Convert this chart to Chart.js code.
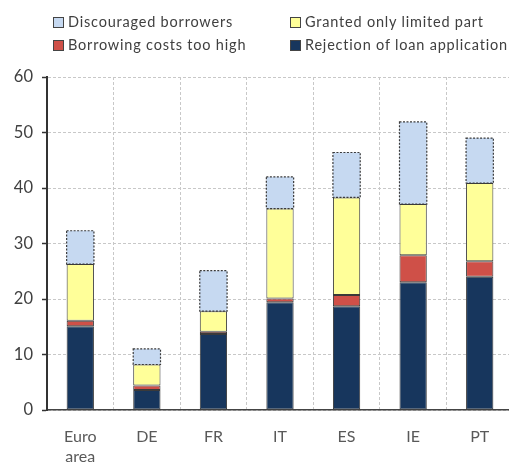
<!DOCTYPE html>
<html>
<head>
<meta charset="utf-8">
<script src="https://cdn.jsdelivr.net/npm/chart.js@4.4.1/dist/chart.umd.min.js"></script>
<style>
  html, body { margin: 0; padding: 0; background: #fff; overflow: hidden; }
  #wrap { position: absolute; left: 0; top: 0; width: 520px; height: 465px; }
  #legend { position: absolute; left: 0; top: 0; width: 509px; height: 70px;
            font-family: Lato, "Open Sans", sans-serif; font-size: 14.5px; letter-spacing: 0.8px; color: #404040; }
  .item { position: absolute; white-space: nowrap; line-height: 16px; }
  .box { display: inline-block; width: 9px; height: 9px; margin-right: 4px;
         vertical-align: -1px; border: 1px solid #444; }
</style>
</head>
<body>
<div id="wrap"><canvas id="c" width="520" height="465"></canvas></div>
<div id="legend"></div>
<script>
// Share of firms facing credit constraints, by type (percent)
const categories = [["Euro", "area"], "DE", "FR", "IT", "ES", "IE", "PT"];
const rejection   = [15.1, 3.6, 13.7, 19.4, 18.7, 23.0, 24.0];
const costsHigh   = [1.0, 0.8, 0.4, 0.7, 2.0, 4.9, 2.8];
const limitedPart = [10.2, 3.8, 3.7, 16.2, 17.6, 9.2, 14.1];
const discouraged = [6.0, 2.8, 7.3, 5.7, 8.1, 14.8, 8.1];
const yTicks = [0, 10, 20, 30, 40, 50, 60];

const seriesNames = [
  "Rejection of loan application",
  "Borrowing costs too high",
  "Granted only limited part",
  "Discouraged borrowers"
];
const colors = ["#17365d", "#cf5048", "#ffff99", "#c6d9f1"];

const datasets = [rejection, costsHigh, limitedPart, discouraged].map((vals, i) => ({
  label: seriesNames[i],
  data: vals,
  backgroundColor: colors[i],
  borderColor: "#3a3a3a",
  borderWidth: i === 3 ? 0 : 1,
  borderSkipped: false,
  categoryPercentage: 1,
  barPercentage: 0.41
}));

// Dotted outline around the top (discouraged) segment of each stack
const dottedTop = {
  id: "dottedTop",
  afterDatasetsDraw(chart) {
    const meta = chart.getDatasetMeta(3);
    const ctx = chart.ctx;
    ctx.save();
    ctx.strokeStyle = "#3a3a3a";
    ctx.lineWidth = 1.2;
    ctx.setLineDash([2, 1.5]);
    meta.data.forEach(bar => {
      const p = bar.getProps(["x", "y", "base", "width"], true);
      ctx.strokeRect(p.x - p.width / 2, p.y, p.width, p.base - p.y);
    });
    ctx.restore();
  }
};

// Legend laid out in two columns, two rows
const legendLayout = [
  { s: 3, left: 53, top: 14 },
  { s: 2, left: 290, top: 14 },
  { s: 1, left: 53, top: 37 },
  { s: 0, left: 290, top: 37 }
];
const legendEl = document.getElementById("legend");
legendLayout.forEach(it => {
  const d = document.createElement("div");
  d.className = "item";
  d.style.left = it.left + "px";
  d.style.top = it.top + "px";
  const b = document.createElement("span");
  b.className = "box";
  b.style.background = colors[it.s];
  d.appendChild(b);
  d.appendChild(document.createTextNode(seriesNames[it.s]));
  legendEl.appendChild(d);
});

new Chart(document.getElementById("c"), {
  type: "bar",
  data: { labels: categories, datasets },
  options: {
    responsive: false,
    animation: false,
    layout: { padding: { top: 77, right: 7, bottom: 0, left: 0 } },
    plugins: { legend: { display: false }, tooltip: { enabled: false } },
    scales: {
      x: {
        stacked: true,
        grid: { display: true, offset: true, color: "#c8c8c8", lineWidth: 1, drawTicks: false },
        border: { display: true, color: "#444", width: 1.5, dash: [3, 2] },
        ticks: { color: "#595959", font: { family: "Lato, 'Open Sans', sans-serif", size: 16, lineHeight: 1.3 }, padding: 16 },
        afterFit(scale) { scale.height = 55; }
      },
      y: {
        stacked: true,
        min: 0, max: 60,
        afterBuildTicks(scale) { scale.ticks = yTicks.map(v => ({ value: v })); },
        grid: { color: "#c8c8c8", lineWidth: 1, drawTicks: true, tickLength: 5,
                tickColor: "#333", tickWidth: 1.5, tickBorderDash: [] },
        border: { display: true, color: "#333", width: 2, dash: [3, 2] },
        ticks: { color: "#404040", font: { family: "Lato, 'Open Sans', sans-serif", size: 16.5 }, padding: 9 },
        afterFit(scale) { scale.width = 47; }
      }
    }
  },
  plugins: [dottedTop]
});
</script>
</body>
</html>
